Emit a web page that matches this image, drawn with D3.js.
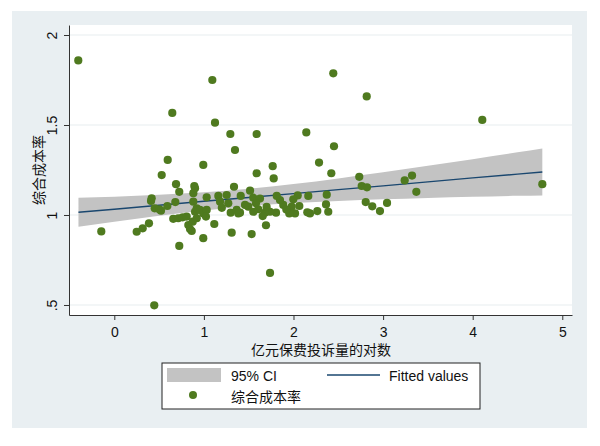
<!DOCTYPE html>
<html><head><meta charset="utf-8">
<script src="https://cdn.jsdelivr.net/npm/d3@7"></script>
<style>body{margin:0;background:#fff}</style>
</head><body>
<svg id="c" width="600" height="446"></svg>
<script>
// ---- data ----
const xVals = [-0.402,1.094,0.647,1.124,1.295,1.589,1.347,0.596,0.993,0.529,1.589,2.444,2.817,2.143,2.452,1.768,2.285,1.779,2.422,2.734,3.323,3.241,4.107,3.371,4.777,2.761,2.820,2.806,2.879,2.965,3.044,2.371,2.363,2.388,2.266,2.184,2.154,2.165,2.047,1.998,2.065,2.017,1.953,1.980,1.886,1.849,1.813,1.805,1.738,1.682,1.656,1.607,1.551,1.515,1.551,1.626,1.581,1.496,1.459,1.411,1.403,1.693,1.533,1.738,-0.145,0.250,0.317,0.387,0.417,0.410,0.451,0.502,0.592,0.446,0.681,0.689,0.725,0.658,0.714,0.763,0.808,0.725,0.826,0.845,0.864,0.875,0.882,0.882,0.901,0.893,0.901,0.920,0.956,0.993,1.031,1.023,0.993,1.031,1.116,1.161,1.180,1.254,1.272,1.299,1.310,1.336,1.366,1.384,0.521,0.920,1.200,1.700,1.920];
const yVals = [1.859,1.750,1.567,1.513,1.450,1.450,1.361,1.306,1.278,1.222,1.232,1.787,1.659,1.459,1.382,1.271,1.291,1.203,1.232,1.212,1.219,1.192,1.528,1.129,1.171,1.161,1.154,1.072,1.048,1.022,1.067,1.113,1.059,1.018,1.022,1.009,1.015,1.106,1.109,1.087,1.050,1.009,1.009,1.046,1.056,1.083,1.106,1.013,1.018,1.013,0.994,1.032,1.018,1.135,1.096,1.091,1.065,1.046,1.056,1.106,1.013,0.943,0.894,0.678,0.909,0.907,0.926,0.954,1.093,1.078,1.037,1.032,1.050,0.498,1.072,1.171,1.129,0.979,0.982,0.987,0.991,0.828,0.944,0.922,0.911,0.963,1.074,1.121,1.148,1.161,1.018,1.037,1.028,1.009,1.028,0.991,0.871,1.098,0.950,1.106,1.074,1.111,1.065,1.013,0.902,1.157,1.028,1.009,1.024,0.982,1.040,1.045,1.030];

// fitted line and 95% CI band read at sample x positions
const ciX    = [-0.40, 0, 0.5, 1, 1.5, 2, 2.5, 3, 3.5, 4, 4.5, 4.777];
const fitVals= [1.015,1.032,1.054,1.076,1.097,1.119,1.141,1.162,1.184,1.206,1.227,1.239];
const ciLow  = [0.935,0.963,0.996,1.025,1.049,1.066,1.078,1.087,1.095,1.101,1.107,1.109];
const ciHigh = [1.096,1.102,1.112,1.126,1.146,1.172,1.203,1.237,1.273,1.310,1.348,1.369];

const xTicks = [0,1,2,3,4,5];
const xTickLabels = ["0","1","2","3","4","5"];
const yTicks = [0.5,1,1.5,2];
const yTickLabels = [".5","1","1.5","2"];
const xTitle = "亿元保费投诉量的对数";
const yTitle = "综合成本率";
const legendLabels = ["95% CI","Fitted values","综合成本率"];

// ---- styles ----
const FONT = "'Liberation Sans', Arial, 'Noto Sans CJK SC', sans-serif";
const CJK = "'Noto Sans CJK SC', 'Liberation Sans', sans-serif";
const BG = "#e9eff2", GRID = "#e7edf0", PT = "#4f7a1f", LINE = "#1a476f", CI = "#c3c3c3";

const svg = d3.select("#c");
svg.append("rect").attr("x",0).attr("y",0).attr("width",600).attr("height",446).attr("fill","#fff");
svg.append("rect").attr("x",12).attr("y",11).attr("width",575).attr("height",417).attr("fill",BG);

const plot = {l:69, r:572, t:25, b:315};
svg.append("rect").attr("x",plot.l).attr("y",plot.t).attr("width",plot.r-plot.l).attr("height",plot.b-plot.t).attr("fill","#fff");

const x = d3.scaleLinear().domain([-0.5056, 5.1083]).range([plot.l, plot.r]);
const y = d3.scaleLinear().domain([0.4444, 2.0556]).range([plot.b, plot.t]);

// grid lines
svg.append("g").selectAll("line").data(yTicks).join("line")
  .attr("x1",plot.l).attr("x2",plot.r).attr("y1",d=>y(d)).attr("y2",d=>y(d))
  .attr("stroke",GRID).attr("stroke-width",1.2);

// CI band
const band = ciX.map((d,i)=>({x:d, lo:ciLow[i], hi:ciHigh[i], f:fitVals[i]}));
svg.append("path").datum(band)
  .attr("d", d3.area().x(d=>x(d.x)).y0(d=>y(d.lo)).y1(d=>y(d.hi)).curve(d3.curveMonotoneX))
  .attr("fill",CI);
svg.append("path").datum(band)
  .attr("d", d3.line().x(d=>x(d.x)).y(d=>y(d.f)))
  .attr("fill","none").attr("stroke",LINE).attr("stroke-width",1.4);

// points
svg.append("g").selectAll("circle").data(xVals.map((d,i)=>[d,yVals[i]])).join("circle")
  .attr("cx",d=>x(d[0])).attr("cy",d=>y(d[1])).attr("r",4.1).attr("fill",PT);

// axes
const ax = svg.append("g").attr("transform",`translate(0,${plot.b})`)
  .call(d3.axisBottom(x).tickValues(xTicks).tickFormat((d,i)=>xTickLabels[i]).tickSize(5).tickSizeOuter(0).tickPadding(7));
const ay = svg.append("g").attr("transform",`translate(${plot.l},0)`)
  .call(d3.axisLeft(y).tickValues(yTicks).tickFormat((d,i)=>yTickLabels[i]).tickSize(5).tickSizeOuter(0));
[ax,ay].forEach(g=>{
  g.select(".domain").attr("stroke","#333").attr("stroke-width",1);
  g.selectAll(".tick line").attr("stroke","#333");
  g.selectAll("text").attr("font-family",FONT).attr("font-size",14).attr("fill","#111");
});
ay.selectAll(".tick text").attr("transform","rotate(-90)").attr("text-anchor","middle")
  .attr("x",0).attr("y",-12).attr("dy",0);

// titles
svg.append("text").attr("x",321).attr("y",355).attr("text-anchor","middle")
  .attr("font-family",CJK).attr("font-size",14).attr("fill","#111").text(xTitle);
svg.append("text").attr("transform","translate(44,170) rotate(-90)").attr("text-anchor","middle")
  .attr("font-family",CJK).attr("font-size",14).attr("fill","#111").text(yTitle);

// legend
const lg = svg.append("g");
lg.append("rect").attr("x",162).attr("y",363).attr("width",318).attr("height",46)
  .attr("fill","#fff").attr("stroke","#222").attr("stroke-width",1);
lg.append("rect").attr("x",167).attr("y",368).attr("width",54).attr("height",14).attr("fill",CI);
lg.append("text").attr("x",231).attr("y",381).attr("font-family",FONT).attr("font-size",14).attr("fill","#111").text(legendLabels[0]);
lg.append("line").attr("x1",327).attr("x2",380).attr("y1",375).attr("y2",375).attr("stroke",LINE).attr("stroke-width",1.4);
lg.append("text").attr("x",389).attr("y",381).attr("font-family",FONT).attr("font-size",14).attr("fill","#111").text(legendLabels[1]);
lg.append("circle").attr("cx",193).attr("cy",395).attr("r",4).attr("fill",PT);
lg.append("text").attr("x",231).attr("y",402).attr("font-family",CJK).attr("font-size",14).attr("fill","#111").text(legendLabels[2]);
</script>
</body></html>
